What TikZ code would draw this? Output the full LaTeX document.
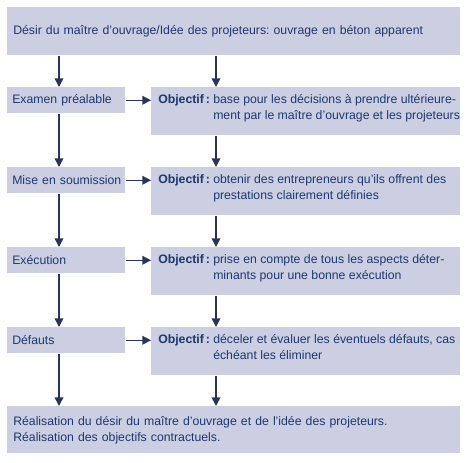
\documentclass[tikz,border=0pt]{standalone}
\usepackage{fontspec}
\setmainfont{Liberation Sans}
\usepackage{tikz}
\usetikzlibrary{arrows.meta}
\usetikzlibrary{calc}
\frenchspacing

\definecolor{boxfill}{RGB}{204,207,225}
\definecolor{textblue}{RGB}{28,56,115}
\definecolor{arrowcol}{RGB}{38,54,90}

\newcommand{\objtext}[2]{%
  \begin{minipage}[c][36pt][t]{231.75pt}%
  \vspace*{4.1pt}\hspace*{5.25pt}\makebox[41.25pt][l]{\bfseries Objectif\,:}%
  \parbox[t]{185pt}{\strut#1\\#2}%
  \end{minipage}}

\begin{document}
\begin{tikzpicture}[x=0.75pt, y=-0.75pt,
        font=\fontsize{9.2}{12}\selectfont,
        box_style/.style={fill=boxfill, text=textblue, anchor=north west, inner ysep=0pt},
        wide_style/.style={box_style, minimum width=339.75pt, minimum height=36pt, text width=330.75pt, inner xsep=4.5pt, align=left},
        left_style/.style={box_style, minimum width=88.5pt, minimum height=19.5pt, text width=81pt, inner xsep=3.75pt, align=left},
        obj_style/.style={box_style, inner sep=0pt},
        arrow_style/.style={draw=arrowcol, line width=1.1pt, -{Triangle[length=6.5pt, width=6.5pt]}}]

        \useasboundingbox (0,0) rectangle (470,462);
        \coordinate (lcol) at (59,0);
        \coordinate (rcol) at (216,0);

        \node [wide_style](n1) at (7,7) {Désir du maître d’ouvrage/Idée des projeteurs: ouvrage en béton apparent};
        \node [left_style](n2) at (7,87) {Examen préalable};
        \node [obj_style](n3) at (151,87) {\objtext{base pour les décisions à prendre ultérieure-}{ment par le maître d’ouvrage et les projeteurs}};
        \node [left_style](n4) at (7,167) {\mbox{Mise en soumission}};
        \node [obj_style](n5) at (151,167) {\objtext{obtenir des entrepreneurs qu’ils offrent des}{prestations clairement définies}};
        \node [left_style](n6) at (7,247) {Exécution};
        \node [obj_style](n7) at (151,247) {\objtext{prise en compte de tous les aspects déter-}{minants pour une bonne exécution}};
        \node [left_style](n8) at (7,327) {Défauts};
        \node [obj_style](n9) at (151,327) {\objtext{déceler et évaluer les éventuels défauts, cas}{échéant les éliminer}};
        \node [wide_style, minimum height=35.25pt](n10) at (7,406) {Réalisation du désir du maître d’ouvrage et de l’idée des projeteurs.\\Réalisation des objectifs contractuels.};

        % left column
        \draw [arrow_style] (n1.south -| lcol) -- (n2.north -| lcol);
        \draw [arrow_style] (n2.south -| lcol) -- (n4.north -| lcol);
        \draw [arrow_style] (n4.south -| lcol) -- (n6.north -| lcol);
        \draw [arrow_style] (n6.south -| lcol) -- (n8.north -| lcol);
        \draw [arrow_style] (n8.south -| lcol) -- (n10.north -| lcol);
        % right column
        \draw [arrow_style] (n1.south -| rcol) -- (n3.north -| rcol);
        \draw [arrow_style] (n3.south -| rcol) -- (n5.north -| rcol);
        \draw [arrow_style] (n5.south -| rcol) -- (n7.north -| rcol);
        \draw [arrow_style] (n7.south -| rcol) -- (n9.north -| rcol);
        \draw [arrow_style] (n9.south -| rcol) -- (n10.north -| rcol);
        % across
        \draw [arrow_style] (n2.east) -- (n2.east -| n3.west);
        \draw [arrow_style] (n4.east) -- (n4.east -| n5.west);
        \draw [arrow_style] (n6.east) -- (n6.east -| n7.west);
        \draw [arrow_style] (n8.east) -- (n8.east -| n9.west);
\end{tikzpicture}
\end{document}
